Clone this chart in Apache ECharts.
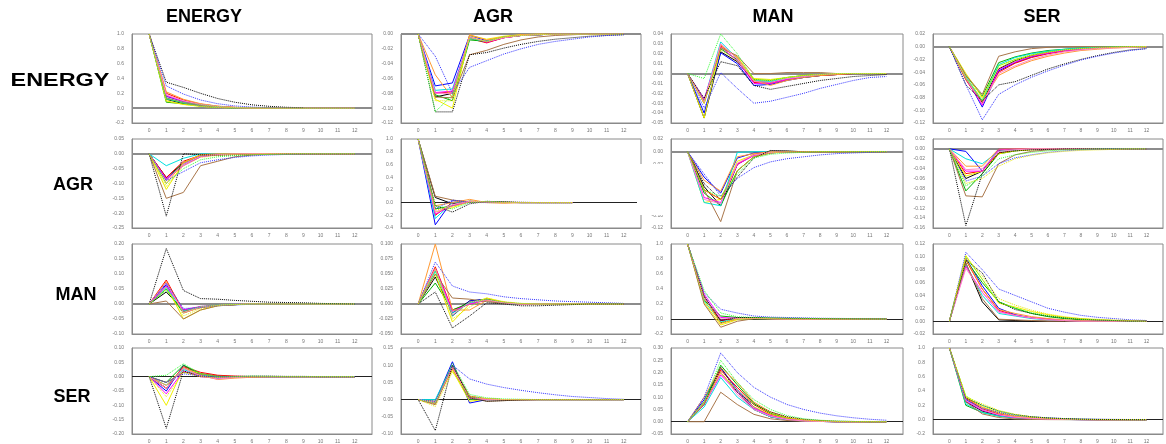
<!DOCTYPE html>
<html>
<head>
<meta charset="utf-8">
<script src="https://cdn.jsdelivr.net/npm/echarts@6/dist/echarts.min.js"></script>
<style>
  html, body { margin: 0; padding: 0; background: #fff; }
  #main { width: 1166px; height: 444px; }
</style>
</head>
<body>
<div id="main"></div>
<script>
// variables: rows are the shocked variable, columns the response
const varNames = ['ENERGY', 'AGR', 'MAN', 'SER']
const horizonLabels = ['0', '1', '2', '3', '4', '5', '6', '7', '8', '9', '10', '11', '12']

// one line style per country (same order in every panel)
const lineColors = ['#000000', '#0000ff', '#ff0000', '#00b000', '#f0f000', '#00e0e0', '#ff00ff',
  '#ff9933', '#a9764a', '#ff88c8', '#000000', '#3333ff', '#33ff33', '#e8e800']
const lineTypes = ['solid', 'solid', 'solid', 'solid', 'solid', 'solid', 'solid',
  'solid', 'solid', 'solid', 'dotted', 'dotted', 'dotted', 'dotted']

// ---- ENERGY shock ----
const irfEnergyEnergy = [
  [1, 0.12, 0.06, 0.03, 0.012, 0.005, 0.002, 0, 0, 0, 0, 0, 0],
  [1, 0.16, 0.09, 0.045, 0.02, 0.008, 0.003, 0.001, 0, 0, 0, 0, 0],
  [1, 0.2, 0.11, 0.055, 0.025, 0.01, 0.004, 0.001, 0, 0, 0, 0, 0],
  [1, 0.08, 0.06, 0.03, 0.012, 0.005, 0.002, 0, 0, 0, 0, 0, 0],
  [1, 0.1, 0.05, 0.025, 0.01, 0.004, 0.001, 0, 0, 0, 0, 0, 0],
  [1, 0.13, 0.07, 0.03, 0.012, 0.004, 0.001, 0, 0, 0, 0, 0, 0],
  [1, 0.17, 0.09, 0.04, 0.018, 0.007, 0.002, 0, 0, 0, 0, 0, 0],
  [1, 0.22, 0.12, 0.06, 0.028, 0.012, 0.004, 0.001, 0, 0, 0, 0, 0],
  [1, 0.14, 0.075, 0.035, 0.015, 0.006, 0.002, 0, 0, 0, 0, 0, 0],
  [1, 0.18, 0.1, 0.05, 0.022, 0.009, 0.003, 0.001, 0, 0, 0, 0, 0],
  [1, 0.35, 0.28, 0.2, 0.13, 0.08, 0.045, 0.025, 0.012, 0.005],
  [1, 0.3, 0.19, 0.11, 0.06, 0.03, 0.015, 0.007, 0.003, 0.001, 0, 0, 0],
  [1, 0.12, 0.08, 0.045, 0.02, 0.008, 0.003, 0.001, 0, 0, 0, 0, 0],
  [1, 0.09, 0.05, 0.025, 0.01, 0.004, 0.001, 0, 0, 0, 0, 0, 0]
]
const irfEnergyAgr = [
  [0, -0.085, -0.08, -0.005, -0.011, -0.005, -0.002, -0.001, 0, 0, 0, 0, 0],
  [0, -0.07, -0.066, -0.002, -0.009, -0.004, -0.002, -0.001, 0, 0, 0, 0, 0],
  [0, -0.08, -0.078, -0.006, -0.012, -0.005, -0.002, -0.001, 0, 0, 0, 0, 0],
  [0, -0.082, -0.09, -0.008, -0.01, -0.004, -0.002, -0.001, 0, 0, 0, 0, 0],
  [0, -0.088, -0.1, -0.002, -0.007, -0.003, -0.001, 0, 0, 0, 0, 0, 0],
  [0, -0.076, -0.074, -0.006, -0.01, -0.004, -0.002, -0.001, 0, 0, 0, 0, 0],
  [0, -0.079, -0.077, -0.004, -0.011, -0.005, -0.002, -0.001, 0, 0, 0, 0, 0],
  [0, -0.055, -0.086, -0.001, -0.008, -0.004, -0.001, 0, 0, 0, 0, 0, 0],
  [0, -0.085, -0.086, -0.028, -0.022, -0.014, -0.008, -0.004, -0.002, -0.001, 0, 0, 0],
  [0, -0.08, -0.08, -0.005, -0.01, -0.005, -0.002, -0.001, 0, 0, 0, 0, 0],
  [0, -0.105, -0.105, -0.028, -0.025, -0.019, -0.014, -0.01, -0.007, -0.005, -0.003, -0.002, -0.001],
  [0, -0.03, -0.08, -0.045, -0.036, -0.027, -0.02, -0.014, -0.01, -0.007, -0.004, -0.002, -0.001],
  [0, -0.105, -0.082, -0.006, -0.01, -0.004, -0.002, -0.001, 0, 0, 0, 0, 0],
  [0, -0.09, -0.09, -0.004, -0.01, -0.004, -0.002, -0.001, 0, 0, 0, 0, 0]
]
const irfEnergyMan = [
  [0, -0.045, 0.022, 0.012, -0.008, -0.009, -0.006, -0.004, -0.002, -0.001, 0, 0, 0],
  [0, -0.04, 0.021, 0.01, -0.012, -0.011, -0.007, -0.004, -0.002, -0.001, 0, 0, 0],
  [0, -0.028, 0.028, 0.016, -0.009, -0.01, -0.006, -0.003, -0.002, -0.001, 0, 0, 0],
  [0, -0.03, 0.025, 0.014, -0.006, -0.007, -0.004, -0.002, -0.001, 0, 0, 0, 0],
  [0, -0.045, 0.027, 0.017, -0.005, -0.006, -0.004, -0.002, -0.001, 0, 0, 0, 0],
  [0, -0.027, 0.032, 0.015, -0.007, -0.008, -0.005, -0.003, -0.001, 0, 0, 0, 0],
  [0, -0.026, 0.027, 0.013, -0.01, -0.01, -0.006, -0.003, -0.001, 0, 0, 0, 0],
  [0, -0.03, 0.029, 0.016, -0.007, -0.012, -0.007, -0.004, -0.002, -0.001, 0, 0, 0],
  [0, -0.028, 0.026, 0.018, 0, 0, 0.001, 0.001, 0.001, 0, 0, 0, 0],
  [0, -0.029, 0.03, 0.015, -0.008, -0.009, -0.005, -0.003, -0.001, 0, 0, 0, 0],
  [0, -0.025, 0.012, 0.008, -0.012, -0.016, -0.013, -0.01, -0.007, -0.005, -0.003, -0.002, -0.001],
  [0, -0.035, 0.001, -0.015, -0.03, -0.028, -0.024, -0.02, -0.015, -0.011, -0.007, -0.004, -0.003],
  [0, -0.005, 0.04, 0.02, -0.006, -0.007, -0.004, -0.002, -0.001, 0, 0, 0, 0],
  [0, -0.03, 0.024, 0.013, -0.006, -0.007, -0.004, -0.002, -0.001, 0, 0, 0, 0]
]
const irfEnergySer = [
  [0, -0.05, -0.088, -0.035, -0.022, -0.014, -0.008, -0.005, -0.003, -0.002, -0.001, 0, 0],
  [0, -0.048, -0.095, -0.038, -0.025, -0.016, -0.01, -0.006, -0.004, -0.002, -0.001, 0, 0],
  [0, -0.052, -0.09, -0.04, -0.026, -0.017, -0.011, -0.007, -0.004, -0.002, -0.001, 0, 0],
  [0, -0.045, -0.078, -0.025, -0.016, -0.01, -0.006, -0.004, -0.002, -0.001, 0, 0, 0],
  [0, -0.042, -0.08, -0.03, -0.02, -0.013, -0.008, -0.005, -0.003, -0.002, -0.001, 0, 0],
  [0, -0.047, -0.085, -0.028, -0.017, -0.011, -0.007, -0.004, -0.002, -0.001, 0, 0, 0],
  [0, -0.05, -0.092, -0.036, -0.024, -0.015, -0.01, -0.006, -0.004, -0.002, -0.001, 0, 0],
  [0, -0.05, -0.086, -0.045, -0.032, -0.022, -0.015, -0.01, -0.006, -0.004, -0.002, -0.001, 0],
  [0, -0.045, -0.075, -0.015, -0.008, -0.003, -0.001, 0, 0, 0, 0, 0, 0],
  [0, -0.049, -0.09, -0.042, -0.03, -0.02, -0.013, -0.008, -0.005, -0.003, -0.002, -0.001, 0],
  [0, -0.06, -0.085, -0.06, -0.055, -0.045, -0.035, -0.027, -0.02, -0.014, -0.009, -0.005, -0.003],
  [0, -0.06, -0.115, -0.075, -0.06, -0.048, -0.038, -0.029, -0.021, -0.015, -0.01, -0.006, -0.003],
  [0, -0.05, -0.085, -0.03, -0.02, -0.013, -0.008, -0.005, -0.003, -0.001, 0, 0, 0],
  [0, -0.048, -0.082, -0.033, -0.022, -0.014, -0.009, -0.005, -0.003, -0.002, -0.001, 0, 0]
]

// ---- AGR shock ----
const irfAgrEnergy = [
  [0, -0.08, -0.03, -0.005, -0.002, -0.001, 0, 0, 0, 0, 0, 0, 0],
  [0, -0.085, -0.035, -0.008, -0.003, -0.001, 0, 0, 0, 0, 0, 0, 0],
  [0, -0.08, -0.025, -0.005, -0.001, 0, 0, 0, 0, 0, 0, 0, 0],
  [0, -0.09, -0.03, -0.006, -0.002, 0, 0, 0, 0, 0, 0, 0, 0],
  [0, -0.12, -0.03, -0.004, -0.001, 0, 0, 0, 0, 0, 0, 0, 0],
  [0, -0.04, -0.015, 0, 0, 0, 0, 0, 0, 0, 0, 0, 0],
  [0, -0.085, -0.04, -0.01, -0.003, -0.001, 0, 0, 0, 0, 0, 0, 0],
  [0, -0.1, -0.03, -0.003, 0, 0, 0, 0, 0, 0, 0, 0, 0],
  [0, -0.15, -0.13, -0.04, -0.025, -0.01, -0.004, -0.001, 0, 0, 0, 0, 0],
  [0, -0.09, -0.035, -0.008, -0.003, -0.001, 0, 0, 0, 0, 0, 0, 0],
  [0, -0.21, 0, -0.003, -0.005, -0.004, -0.003, -0.002, -0.001, 0, 0, 0, 0],
  [0, -0.09, -0.06, -0.03, -0.02, -0.012, -0.007, -0.004, -0.002, -0.001, 0, 0, 0],
  [0, -0.1, -0.05, -0.02, -0.01, -0.006, -0.003, -0.002, -0.001, 0, 0, 0, 0],
  [0, -0.11, -0.04, -0.012, -0.005, -0.002, -0.001, 0, 0, 0, 0, 0, 0]
]
const irfAgrAgr = [
  [1, 0.08, -0.02, 0.02, 0.01, 0.005, 0, 0, 0, 0],
  [1, -0.35, 0.03, 0.01, 0.005, 0.002, 0, 0, 0, 0],
  [1, -0.2, 0, 0.02, 0.01, 0.004, 0, 0, 0, 0],
  [1, -0.1, -0.05, 0.01, 0.01, 0.003, 0, 0, 0, 0],
  [1, -0.15, -0.08, 0.02, 0.01, 0.002, 0, 0, 0, 0],
  [1, -0.25, 0, 0.02, 0.01, 0.002, 0, 0, 0, 0],
  [1, -0.18, -0.05, 0.01, 0.01, 0.002, 0, 0, 0, 0],
  [1, -0.05, 0, 0.05, 0, -0.01, 0, 0, 0, 0],
  [1, 0.1, 0.04, 0.01, 0, 0, 0, 0, 0, 0],
  [1, -0.15, -0.03, 0.02, 0.01, 0.002, 0, 0, 0, 0],
  [1, -0.05, -0.15, -0.02, 0.02, 0.01, 0.005, 0, 0, 0],
  [1, -0.1, 0.04, 0, 0, 0, 0, 0, 0, 0],
  [1, -0.05, -0.1, 0, 0.02, 0.005, 0, 0, 0, 0],
  [1, -0.12, -0.06, 0.01, 0.01, 0, 0, 0, 0, 0]
]
const irfAgrMan = [
  [0, -0.055, -0.085, -0.02, -0.005, 0.001, 0.001, 0, 0, 0, 0, 0, 0],
  [0, -0.04, -0.065, -0.01, -0.002, 0, 0, 0, 0, 0, 0, 0, 0],
  [0, -0.06, -0.075, -0.02, -0.004, 0, 0, 0, 0, 0, 0, 0, 0],
  [0, -0.065, -0.085, -0.03, -0.008, -0.002, 0, 0, 0, 0, 0, 0, 0],
  [0, -0.08, -0.075, -0.015, -0.005, -0.001, 0, 0, 0, 0, 0, 0, 0],
  [0, -0.08, -0.085, -0.001, 0, 0, 0, 0, 0, 0, 0, 0, 0],
  [0, -0.072, -0.08, -0.02, -0.006, -0.002, 0, 0, 0, 0, 0, 0, 0],
  [0, -0.045, -0.062, -0.008, -0.003, 0, 0, 0, 0, 0, 0, 0, 0],
  [0, -0.06, -0.11, -0.03, -0.008, -0.002, 0, 0, 0, 0, 0, 0, 0],
  [0, -0.075, -0.082, -0.018, -0.005, -0.001, 0, 0, 0, 0, 0, 0, 0],
  [0, -0.05, -0.075, -0.04, -0.01, 0.002, 0.001, 0, 0, 0, 0, 0, 0],
  [0, -0.035, -0.07, -0.042, -0.025, -0.016, -0.011, -0.008, -0.005, -0.003, -0.002, -0.001, 0],
  [0, -0.06, -0.07, -0.035, -0.01, -0.004, -0.002, -0.001, 0, 0, 0, 0, 0],
  [0, -0.06, -0.075, -0.03, -0.008, -0.002, 0, 0, 0, 0, 0, 0, 0]
]
const irfAgrSer = [
  [0, -0.06, -0.045, -0.003, -0.001, 0, 0, 0, 0, 0, 0, 0, 0],
  [0, -0.005, -0.045, 0, 0, 0, 0, 0, 0, 0, 0, 0, 0],
  [0, -0.05, -0.045, -0.008, -0.003, -0.001, 0, 0, 0, 0, 0, 0, 0],
  [0, -0.085, -0.05, -0.01, -0.004, -0.001, 0, 0, 0, 0, 0, 0, 0],
  [0, -0.055, -0.045, -0.01, -0.004, -0.002, -0.001, 0, 0, 0, 0, 0, 0],
  [0, -0.02, -0.03, -0.005, -0.002, 0, 0, 0, 0, 0, 0, 0, 0],
  [0, -0.045, -0.045, -0.002, 0, 0, 0, 0, 0, 0, 0, 0, 0],
  [0, -0.035, -0.035, 0, 0, 0, 0, 0, 0, 0, 0, 0, 0],
  [0, -0.095, -0.097, -0.03, -0.012, -0.005, -0.002, -0.001, 0, 0, 0, 0, 0],
  [0, -0.042, -0.04, -0.005, -0.002, 0, 0, 0, 0, 0, 0, 0, 0],
  [0, -0.155, -0.05, -0.008, -0.004, -0.002, -0.001, 0, 0, 0, 0, 0, 0],
  [0, -0.065, -0.055, -0.03, -0.018, -0.012, -0.007, -0.004, -0.002, -0.001, 0, 0, 0],
  [0, -0.075, -0.055, -0.02, -0.012, -0.007, -0.004, -0.002, -0.001, 0, 0, 0, 0],
  [0, -0.07, -0.06, -0.035, -0.02, -0.013, -0.008, -0.005, -0.003, -0.002, -0.001, 0, 0]
]

// ---- MAN shock ----
const irfManEnergy = [
  [0, 0.04, -0.02, -0.01, -0.004, -0.002, -0.001, 0, 0, 0, 0, 0, 0],
  [0, 0.065, -0.025, -0.012, -0.005, -0.002, -0.001, 0, 0, 0, 0, 0, 0],
  [0, 0.08, -0.025, -0.01, -0.005, -0.002, 0, 0, 0, 0, 0, 0, 0],
  [0, 0.05, -0.03, -0.01, -0.004, -0.002, 0, 0, 0, 0, 0, 0, 0],
  [0, 0.06, -0.05, -0.02, -0.006, -0.002, 0, 0, 0, 0, 0, 0, 0],
  [0, 0.055, -0.022, -0.01, -0.004, -0.001, 0, 0, 0, 0, 0, 0, 0],
  [0, 0.06, -0.02, -0.008, -0.004, -0.001, 0, 0, 0, 0, 0, 0, 0],
  [0, 0.075, -0.03, -0.012, -0.005, -0.002, 0, 0, 0, 0, 0, 0, 0],
  [0, 0.01, -0.05, -0.02, -0.006, -0.002, 0, 0, 0, 0, 0, 0, 0],
  [0, 0.07, -0.028, -0.01, -0.004, -0.001, 0, 0, 0, 0, 0, 0, 0],
  [0, 0.185, 0.045, 0.018, 0.016, 0.012, 0.009, 0.006, 0.005, 0.004, 0.002, 0.001, 0],
  [0, 0.07, -0.015, -0.012, -0.006, -0.003, -0.001, 0, 0, 0, 0, 0, 0],
  [0, 0.045, -0.025, -0.008, -0.003, -0.001, 0, 0, 0, 0, 0, 0, 0],
  [0, 0.05, -0.04, -0.015, -0.005, -0.002, 0, 0, 0, 0, 0, 0, 0]
]
const irfManAgr = [
  [0, 0.045, -0.015, 0.005, 0.008, 0.002, 0, 0, 0, 0, 0, 0, 0],
  [0, 0.06, -0.02, 0.005, 0.008, 0.002, 0, 0, 0, 0, 0, 0, 0],
  [0, 0.062, -0.01, 0, 0.008, 0.003, 0, 0, 0, 0, 0, 0, 0],
  [0, 0.035, -0.01, 0.002, 0.007, 0.002, 0, 0, 0, 0, 0, 0, 0],
  [0, 0.05, -0.03, 0, 0.01, 0.003, 0, 0, 0, 0, 0, 0, 0],
  [0, 0.055, -0.015, 0.002, 0.006, 0.001, 0, 0, 0, 0, 0, 0, 0],
  [0, 0.06, -0.012, 0, 0.006, 0.002, 0, 0, 0, 0, 0, 0, 0],
  [0, 0.1, -0.01, -0.01, 0.006, 0.002, 0, 0, 0, 0, 0, 0, 0],
  [0, 0.05, 0.01, 0.008, 0.004, 0.001, 0, 0, 0, 0, 0, 0, 0],
  [0, 0.058, -0.018, 0.003, 0.007, 0.002, 0, 0, 0, 0, 0, 0, 0],
  [0, 0.02, -0.04, -0.02, 0.002, 0, -0.003, -0.003, -0.002, -0.001, 0, 0, 0],
  [0, 0.07, 0.03, 0.02, 0.017, 0.012, 0.009, 0.007, 0.005, 0.004, 0.003, 0.002, 0.001],
  [0, 0.055, -0.02, 0.003, 0.008, 0.003, 0.001, 0, 0, 0, 0, 0, 0],
  [0, 0.06, -0.025, -0.005, 0.01, 0.004, 0.001, 0, 0, 0, 0, 0, 0]
]
const irfManMan = [
  [1, 0.3, -0.05, 0, 0.01, 0.005, 0, 0, 0, 0, 0, 0, 0],
  [1, 0.3, -0.02, 0.01, 0.01, 0.005, 0, 0, 0, 0, 0, 0, 0],
  [1, 0.28, -0.02, 0.01, 0.008, 0.004, 0, 0, 0, 0, 0, 0, 0],
  [1, 0.25, 0.04, 0.02, 0.01, 0.005, 0, 0, 0, 0, 0, 0, 0],
  [1, 0.22, -0.08, -0.01, 0.005, 0.002, 0, 0, 0, 0, 0, 0, 0],
  [1, 0.24, -0.04, 0, 0.006, 0.003, 0, 0, 0, 0, 0, 0, 0],
  [1, 0.33, 0.02, 0.01, 0.01, 0.005, 0, 0, 0, 0, 0, 0, 0],
  [1, 0.3, -0.06, 0, 0.01, 0.005, 0, 0, 0, 0, 0, 0, 0],
  [1, 0.2, -0.11, -0.03, 0.005, 0.002, 0, 0, 0, 0, 0, 0, 0],
  [1, 0.28, 0, 0.01, 0.01, 0.005, 0, 0, 0, 0, 0, 0, 0],
  [1, 0.3, -0.02, 0.02, 0.02, 0.015, 0.01, 0.008, 0.005, 0.003, 0.002, 0.001, 0],
  [1, 0.35, 0.13, 0.08, 0.04, 0.025, 0.02, 0.015, 0.01, 0.008, 0.006, 0.004, 0.002],
  [1, 0.38, 0.08, 0.03, 0.02, 0.015, 0.01, 0.008, 0.005, 0.003, 0.002, 0.001, 0],
  [1, 0.25, -0.05, 0, 0.01, 0.005, 0, 0, 0, 0, 0, 0, 0]
]
const irfManSer = [
  [0, 0.09, 0.03, 0.002, 0.001, 0, 0, 0, 0, 0, 0, 0, 0],
  [0, 0.098, 0.055, 0.02, 0.01, 0.005, 0.003, 0.001, 0, 0, 0, 0, 0],
  [0, 0.095, 0.05, 0.017, 0.009, 0.005, 0.003, 0.001, 0, 0, 0, 0, 0],
  [0, 0.095, 0.06, 0.03, 0.02, 0.012, 0.007, 0.004, 0.002, 0.001, 0, 0, 0],
  [0, 0.102, 0.065, 0.028, 0.022, 0.015, 0.01, 0.006, 0.004, 0.002, 0.001, 0, 0],
  [0, 0.088, 0.04, 0.012, 0.008, 0.004, 0.002, 0.001, 0, 0, 0, 0, 0],
  [0, 0.085, 0.045, 0.015, 0.009, 0.005, 0.003, 0.001, 0, 0, 0, 0, 0],
  [0, 0.097, 0.05, 0.018, 0.012, 0.007, 0.004, 0.002, 0.001, 0, 0, 0, 0],
  [0, 0.09, 0.035, 0.003, 0.002, 0.001, 0, 0, 0, 0, 0, 0, 0],
  [0, 0.082, 0.045, 0.014, 0.009, 0.005, 0.002, 0.001, 0, 0, 0, 0, 0],
  [0, 0.095, 0.075, 0.03, 0.018, 0.012, 0.008, 0.005, 0.003, 0.002, 0.001, 0, 0],
  [0, 0.107, 0.08, 0.05, 0.04, 0.03, 0.02, 0.014, 0.009, 0.006, 0.004, 0.002, 0.001],
  [0, 0.1, 0.065, 0.03, 0.02, 0.013, 0.008, 0.005, 0.003, 0.002, 0.001, 0, 0],
  [0, 0.1, 0.07, 0.035, 0.025, 0.017, 0.011, 0.007, 0.004, 0.003, 0.002, 0.001, 0]
]

// ---- SER shock ----
const irfSerEnergy = [
  [0, -0.04, 0.03, 0.01, 0.002, 0, 0, 0, 0, 0, 0, 0, 0],
  [0, -0.05, 0.04, 0.005, -0.005, -0.002, 0, 0, 0, 0, 0, 0, 0],
  [0, -0.04, 0.035, 0.015, 0.005, 0.002, 0, 0, 0, 0, 0, 0, 0],
  [0, -0.02, 0.04, 0.01, 0, 0, 0, 0, 0, 0, 0, 0, 0],
  [0, -0.1, 0.03, 0.01, 0, 0, 0, 0, 0, 0, 0, 0, 0],
  [0, -0.03, 0.025, 0.005, -0.005, -0.002, 0, 0, 0, 0, 0, 0, 0],
  [0, -0.06, 0.02, 0, -0.005, -0.002, 0, 0, 0, 0, 0, 0, 0],
  [0, -0.03, 0.03, 0.005, -0.01, -0.005, -0.002, 0, 0, 0, 0, 0, 0],
  [0, -0.02, 0.015, 0.01, 0.002, 0, 0, 0, 0, 0, 0, 0, 0],
  [0, -0.04, 0.03, 0.002, -0.008, -0.003, 0, 0, 0, 0, 0, 0, 0],
  [0, -0.18, 0.02, 0, 0, 0.001, 0.002, 0.002, 0.001, 0.001, 0, 0, 0],
  [0, -0.02, 0.01, 0.003, 0, 0, 0, 0, 0, 0, 0, 0, 0],
  [0, 0.005, 0.045, 0.01, 0, 0, 0.002, 0.001, 0, 0, 0, 0, 0],
  [0, -0.07, 0.015, 0, -0.003, -0.001, 0, 0, 0, 0, 0, 0, 0]
]
const irfSerAgr = [
  [0, -0.01, 0.1, 0.005, 0, 0, 0, 0, 0, 0, 0, 0, 0],
  [0, -0.005, 0.11, -0.01, 0, 0, 0, 0, 0, 0, 0, 0, 0],
  [0, -0.01, 0.095, 0.01, 0.002, 0, 0, 0, 0, 0, 0, 0, 0],
  [0, -0.01, 0.09, 0, 0, 0, 0, 0, 0, 0, 0, 0, 0],
  [0, -0.005, 0.085, -0.005, 0.002, 0, 0, 0, 0, 0, 0, 0, 0],
  [0, 0, 0.1, 0.008, 0.002, 0, 0, 0, 0, 0, 0, 0, 0],
  [0, -0.01, 0.095, 0.005, 0, 0, 0, 0, 0, 0, 0, 0, 0],
  [0, -0.012, 0.09, 0.005, 0.002, 0, 0, 0, 0, 0, 0, 0, 0],
  [0, -0.015, 0.1, 0.01, -0.005, -0.003, -0.001, 0, 0, 0, 0, 0, 0],
  [0, -0.008, 0.095, 0.003, 0.001, 0, 0, 0, 0, 0, 0, 0, 0],
  [0, -0.09, 0.1, 0.005, -0.005, -0.003, -0.001, 0, 0, 0, 0, 0, 0],
  [0, -0.005, 0.1, 0.06, 0.045, 0.035, 0.027, 0.02, 0.014, 0.009, 0.006, 0.003, 0.001],
  [0, -0.01, 0.105, 0.015, 0.005, 0.002, 0.001, 0, 0, 0, 0, 0, 0],
  [0, -0.02, 0.08, 0.01, 0.003, 0, 0, 0, 0, 0, 0, 0, 0]
]
const irfSerMan = [
  [0, 0.08, 0.2, 0.12, 0.05, 0.02, 0.008, 0.003, 0.001, 0, 0, 0, 0],
  [0, 0.09, 0.22, 0.13, 0.06, 0.025, 0.01, 0.004, 0.001, 0, 0, 0, 0],
  [0, 0.07, 0.21, 0.14, 0.07, 0.03, 0.012, 0.005, 0.002, 0, 0, 0, 0],
  [0, 0.075, 0.23, 0.15, 0.075, 0.035, 0.015, 0.006, 0.002, 0, 0, 0, 0],
  [0, 0.08, 0.2, 0.12, 0.06, 0.028, 0.012, 0.005, 0.002, 0, 0, 0, 0],
  [0, 0.06, 0.18, 0.1, 0.05, 0.02, 0.008, 0.003, 0.001, 0, 0, 0, 0],
  [0, 0.07, 0.19, 0.12, 0.055, 0.025, 0.01, 0.004, 0.001, 0, 0, 0, 0],
  [0, 0.1, 0.22, 0.16, 0.08, 0.04, 0.018, 0.008, 0.003, 0.001, 0, 0, 0],
  [0, 0, 0.12, 0.07, 0.03, 0.012, 0.005, 0.002, 0.001, 0, 0, 0, 0],
  [0, 0.075, 0.2, 0.11, 0.05, 0.022, 0.009, 0.003, 0.001, 0, 0, 0, 0],
  [0, 0.07, 0.22, 0.12, 0.07, 0.04, 0.02, 0.01, 0.005, 0.002, 0.001, 0, 0],
  [0, 0.1, 0.28, 0.2, 0.14, 0.1, 0.07, 0.05, 0.035, 0.024, 0.016, 0.01, 0.006],
  [0, 0.08, 0.25, 0.16, 0.09, 0.05, 0.025, 0.012, 0.006, 0.003, 0.001, 0, 0],
  [0, 0.07, 0.2, 0.13, 0.07, 0.035, 0.016, 0.007, 0.003, 0.001, 0, 0, 0]
]
const irfSerSer = [
  [1, 0.25, 0.12, 0.06, 0.03, 0.015, 0.007, 0.003, 0.001, 0, 0, 0, 0],
  [1, 0.28, 0.14, 0.07, 0.035, 0.017, 0.008, 0.004, 0.002, 0, 0, 0, 0],
  [1, 0.3, 0.15, 0.08, 0.04, 0.02, 0.01, 0.005, 0.002, 0, 0, 0, 0],
  [1, 0.2, 0.1, 0.05, 0.025, 0.012, 0.006, 0.003, 0.001, 0, 0, 0, 0],
  [1, 0.32, 0.18, 0.1, 0.05, 0.025, 0.012, 0.006, 0.003, 0, 0, 0, 0],
  [1, 0.22, 0.1, 0.05, 0.025, 0.012, 0.006, 0.002, 0, 0, 0, 0, 0],
  [1, 0.26, 0.13, 0.065, 0.03, 0.015, 0.007, 0.003, 0, 0, 0, 0, 0],
  [1, 0.3, 0.17, 0.09, 0.045, 0.022, 0.01, 0.005, 0.002, 0, 0, 0, 0],
  [1, 0.25, 0.08, 0.03, 0.01, 0.004, 0.001, 0, 0, 0, 0, 0, 0],
  [1, 0.27, 0.14, 0.07, 0.035, 0.017, 0.008, 0.003, 0, 0, 0, 0, 0],
  [1, 0.3, 0.2, 0.12, 0.07, 0.04, 0.025, 0.015, 0.008, 0.004, 0.002, 0.001, 0],
  [1, 0.28, 0.16, 0.1, 0.06, 0.04, 0.025, 0.015, 0.01, 0.006, 0.004, 0.002, 0.001],
  [1, 0.33, 0.2, 0.12, 0.07, 0.04, 0.022, 0.012, 0.006, 0.003, 0.001, 0, 0],
  [1, 0.32, 0.22, 0.13, 0.075, 0.04, 0.02, 0.01, 0.005, 0.002, 0.001, 0, 0]
]

const panelData = [
  [irfEnergyEnergy, irfEnergyAgr, irfEnergyMan, irfEnergySer],
  [irfAgrEnergy, irfAgrAgr, irfAgrMan, irfAgrSer],
  [irfManEnergy, irfManAgr, irfManMan, irfManSer],
  [irfSerEnergy, irfSerAgr, irfSerMan, irfSerSer]
]

// y axis ranges [min, max, interval, decimals]
const yRanges = [
  [[-0.2, 1, 0.2, 1], [-0.12, 0, 0.02, 2], [-0.05, 0.04, 0.01, 2], [-0.12, 0.02, 0.02, 2]],
  [[-0.25, 0.05, 0.05, 2], [-0.4, 1, 0.2, 1], [-0.12, 0.02, 0.02, 2], [-0.16, 0.02, 0.02, 2]],
  [[-0.1, 0.2, 0.05, 2], [-0.05, 0.1, 0.025, 3], [-0.2, 1, 0.2, 1], [-0.02, 0.12, 0.02, 2]],
  [[-0.2, 0.1, 0.05, 2], [-0.1, 0.15, 0.05, 2], [-0.05, 0.3, 0.05, 2], [-0.2, 1, 0.2, 1]]
]

// panel layout in pixels
const colLeft = [132, 401, 671, 933]
const colWidth = [240, 240, 232, 232]
const rowTop = [34, 139, 244, 348]
const rowHeight = [89, 89, 90, 90]
const darkZero = [[0, 0, 0, 0], [0, 1, 0, 0], [0, 0, 1, 1], [1, 1, 1, 1]]

const grids = []
const xAxes = []
const yAxes = []
const series = []

for (let r = 0; r < 4; r++) {
  for (let c = 0; c < 4; c++) {
    const idx = r * 4 + c
    const yr = yRanges[r][c]
    grids.push({
      left: colLeft[c], top: rowTop[r], width: colWidth[c], height: rowHeight[r],
      show: true, borderColor: '#8a8a8a', borderWidth: 1
    })
    xAxes.push({
      type: 'value', gridIndex: idx, min: -1, max: 13, interval: 1,
      axisLine: { show: true, onZero: false, lineStyle: { color: '#8a8a8a' } },
      axisTick: { show: false },
      splitLine: { show: false },
      axisLabel: {
        fontSize: 5, color: '#777', margin: 5,
        formatter: v => (v >= 0 && v <= 12 ? horizonLabels[v] : '')
      }
    })
    yAxes.push({
      type: 'value', gridIndex: idx, min: yr[0], max: yr[1], interval: yr[2],
      axisLine: { show: true, onZero: false, lineStyle: { color: '#8a8a8a' } },
      axisTick: { show: false },
      splitLine: { show: false },
      axisLabel: {
        fontSize: 5, color: '#777', margin: 8,
        formatter: v => (Math.abs(v) < 1e-9 ? 0 : v).toFixed(yr[3])
      }
    })
    const dark = darkZero[r][c] === 1
    panelData[r][c].forEach((vals, k) => {
      series.push({
        name: 'Country ' + (k + 1),
        type: 'line',
        xAxisIndex: idx,
        yAxisIndex: idx,
        data: vals.map((v, h) => [h, v]),
        symbol: 'none',
        z: lineTypes[k] === 'dotted' ? 4 : 3,
        lineStyle: { color: lineColors[k], width: 1, type: lineTypes[k] },
        markLine: k === 0 ? {
          silent: true, symbol: 'none', label: { show: false }, z: 2,
          lineStyle: { color: dark ? '#222' : '#8c8c8c', width: dark ? 1 : 2, type: 'solid' },
          data: [{ yAxis: 0 }]
        } : undefined
      })
    })
  }
}

const headFont = 'bold 18px "Liberation Sans", Arial, sans-serif'
const colCenters = [204, 493, 773, 1042]
const rowLabelX = [60, 73, 76, 72]
const rowLabelStretch = [1.3, 1, 1, 1]
const rowMid = [81, 185, 295, 397]
const graphics = []
varNames.forEach((name, i) => {
  graphics.push({
    type: 'text', x: colCenters[i], y: 17, z: 10,
    style: { text: name, font: headFont, fill: '#000', textAlign: 'center', textVerticalAlign: 'middle', align: 'center', verticalAlign: 'middle' }
  })
  graphics.push({
    type: 'text', x: rowLabelX[i], y: rowMid[i], z: 10, scaleX: rowLabelStretch[i],
    style: { text: name, font: headFont, fill: '#000', textAlign: 'center', textVerticalAlign: 'middle', align: 'center', verticalAlign: 'middle' }
  })
})
// white patch that hides part of the AGR/MAN panels in the original
graphics.push({
  type: 'rect', z: 100,
  shape: { x: 637, y: 164, width: 27, height: 51 },
  style: { fill: '#ffffff' }
})

const chart = echarts.init(document.getElementById('main'), null, { renderer: 'canvas' })
chart.setOption({
  animation: false,
  backgroundColor: '#ffffff',
  grid: grids,
  xAxis: xAxes,
  yAxis: yAxes,
  series: series,
  graphic: graphics
})
</script>
</body>
</html>
